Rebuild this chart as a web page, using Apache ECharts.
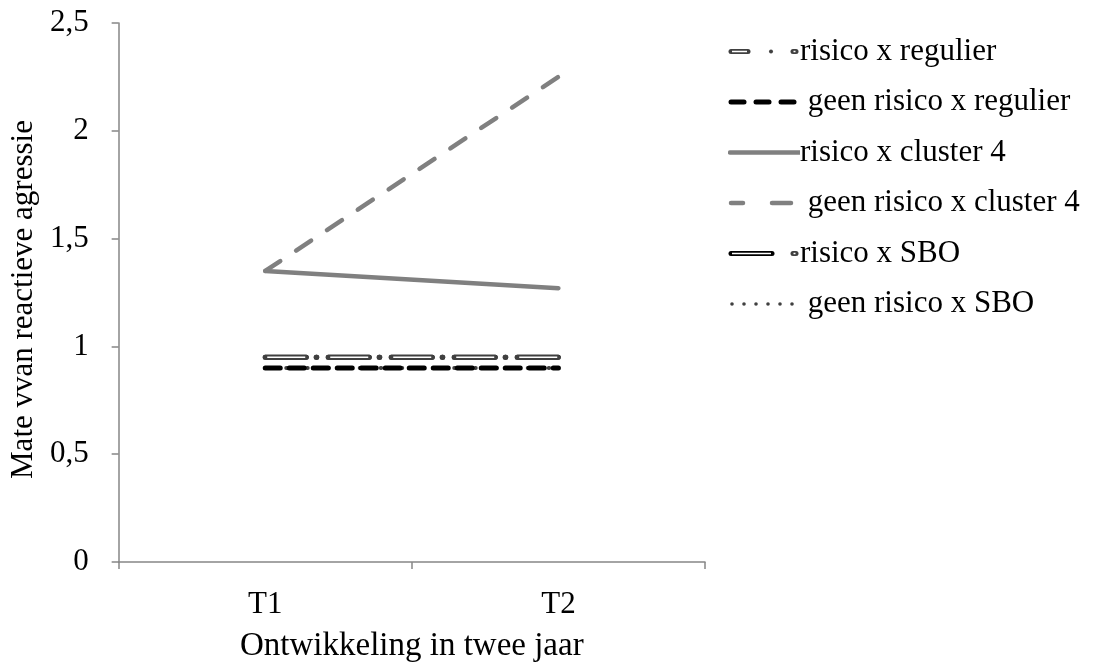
<!DOCTYPE html>
<html>
<head>
<meta charset="utf-8">
<script src="https://cdn.jsdelivr.net/npm/echarts@6/dist/echarts.min.js"></script>
<style>html,body{margin:0;padding:0;background:#fff}#c{width:1093px;height:668px}</style>
</head>
<body>
<div id="c"></div>
<script>
var categories = ['T1', 'T2'];
var seriesNames = ['risico x regulier', 'geen risico x regulier', 'risico x cluster 4', 'geen risico x cluster 4', 'risico x SBO', 'geen risico x SBO'];
var risicoRegulier = [0.95, 0.95];
var geenRisicoRegulier = [0.90, 0.90];
var risicoCluster4 = [1.35, 1.27];
var geenRisicoCluster4 = [1.35, 2.25];
var risicoSBO = [0.95, 0.95];
var geenRisicoSBO = [0.90, 0.90];
var yTicks = [0, 0.5, 1, 1.5, 2, 2.5];

function svgIcon(body) {
  var s = '<svg xmlns="http://www.w3.org/2000/svg" width="72" height="12" viewBox="0 0 72 12">' + body + '</svg>';
  return 'image://data:image/svg+xml;charset=utf-8,' + encodeURIComponent(s);
}
var icons = [
  svgIcon('<line x1="3" y1="6" x2="20" y2="6" stroke="#404040" stroke-width="5" stroke-linecap="round"/><line x1="4" y1="6" x2="19" y2="6" stroke="#fff" stroke-width="1.5"/><circle cx="43" cy="6" r="2" fill="#404040"/><line x1="65" y1="6" x2="68" y2="6" stroke="#404040" stroke-width="5" stroke-linecap="round"/><line x1="65.5" y1="6" x2="67.5" y2="6" stroke="#fff" stroke-width="1.5"/>'),
  svgIcon('<g stroke="#000" stroke-width="5" stroke-linecap="round"><line x1="3" y1="6" x2="16" y2="6"/><line x1="28" y1="6" x2="41" y2="6"/><line x1="53" y1="6" x2="66" y2="6"/></g>'),
  svgIcon('<line x1="2" y1="6" x2="72" y2="6" stroke="#808080" stroke-width="4.5" stroke-linecap="round"/>'),
  svgIcon('<g stroke="#808080" stroke-width="4.5" stroke-linecap="round"><line x1="3" y1="6" x2="15" y2="6"/><line x1="44" y1="6" x2="63" y2="6"/></g>'),
  svgIcon('<line x1="3" y1="6" x2="44" y2="6" stroke="#000" stroke-width="5" stroke-linecap="round"/><line x1="4" y1="6" x2="43" y2="6" stroke="#fff" stroke-width="1.5"/><line x1="65" y1="6" x2="68" y2="6" stroke="#404040" stroke-width="5" stroke-linecap="round"/><line x1="65.5" y1="6" x2="67.5" y2="6" stroke="#fff" stroke-width="1.5"/>'),
  svgIcon('<g fill="#404040"><circle cx="4" cy="6" r="1.8"/><circle cx="16" cy="6" r="1.8"/><circle cx="28" cy="6" r="1.8"/><circle cx="40" cy="6" r="1.8"/><circle cx="52" cy="6" r="1.8"/><circle cx="64" cy="6" r="1.8"/></g>')
];

function lineSeries(name, data, style, z) {
  return {
    name: name, type: 'line', data: data, showSymbol: false, symbol: 'none',
    silent: true, z: z, lineStyle: style, animation: false
  };
}

var font = 'Liberation Serif';
var fs = 31;
var series = [
  lineSeries(seriesNames[4], risicoSBO, {color: '#000', width: 5, type: [41, 10, 0.5, 11.5], cap: 'round'}, 2),
  lineSeries(seriesNames[0], risicoRegulier, {color: '#404040', width: 5, type: [41, 10, 0.5, 11.5], cap: 'round'}, 4),
  lineSeries('_inner_reg', risicoRegulier, {color: '#fff', width: 1.5, type: [38, 25], dashOffset: -2}, 5),
  lineSeries(seriesNames[5], geenRisicoSBO, {color: '#404040', width: 4, type: [0.5, 10], cap: 'round'}, 6),
  lineSeries(seriesNames[1], geenRisicoRegulier, {color: '#000', width: 5, type: [15, 9], cap: 'round'}, 7),
  lineSeries(seriesNames[2], risicoCluster4, {color: '#808080', width: 4.5, type: 'solid', cap: 'round'}, 8),
  lineSeries(seriesNames[3], geenRisicoCluster4, {color: '#808080', width: 4.5, type: [18, 19], cap: 'round'}, 9)
];

var chart = echarts.init(document.getElementById('c'), null, {renderer: 'canvas'});
chart.setOption({
  backgroundColor: '#fff',
  animation: false,
  textStyle: {fontFamily: font},
  grid: {left: 115, right: 388, top: 23, bottom: 104, containLabel: false},
  legend: {
    orient: 'vertical', left: 723, top: 31, itemWidth: 72, itemHeight: 12, itemGap: 19.5,
    selectedMode: false,
    formatter: function (n) { return n.indexOf('geen') === 0 ? ' ' + n : n; },
    textStyle: {fontFamily: font, fontSize: fs, color: '#000', padding: [0, 0, 0, -5]},
    data: seriesNames.map(function (n, i) { return {name: n, icon: icons[i]}; })
  },
  xAxis: {
    type: 'category', data: categories, boundaryGap: true,
    name: 'Ontwikkeling in twee jaar', nameLocation: 'middle', nameGap: 68,
    nameTextStyle: {fontFamily: font, fontSize: 33, color: '#000'},
    axisLine: {lineStyle: {color: '#868686', width: 1.5}},
    axisTick: {show: true, length: 7, lineStyle: {color: '#868686', width: 1.5}},
    axisLabel: {fontFamily: font, fontSize: fs, color: '#000', margin: 27}
  },
  yAxis: {
    type: 'value', min: 0, max: 2.5, interval: 0.5,
    name: 'Mate vvan reactieve agressie', nameLocation: 'middle', nameGap: 77,
    nameTextStyle: {fontFamily: font, fontSize: fs, color: '#000', padding: [0, 14, 0, 0]},
    axisLine: {show: true, lineStyle: {color: '#868686', width: 1.5}},
    axisTick: {show: true, length: 7, lineStyle: {color: '#868686', width: 1.5}},
    splitLine: {show: false},
    axisLabel: {
      fontFamily: font, fontSize: fs, color: '#000', margin: 30,
      formatter: function (v) { return yTicks.indexOf(v) >= 0 ? String(v).replace('.', ',') : ''; }
    }
  },
  series: series
});
</script>
</body>
</html>
